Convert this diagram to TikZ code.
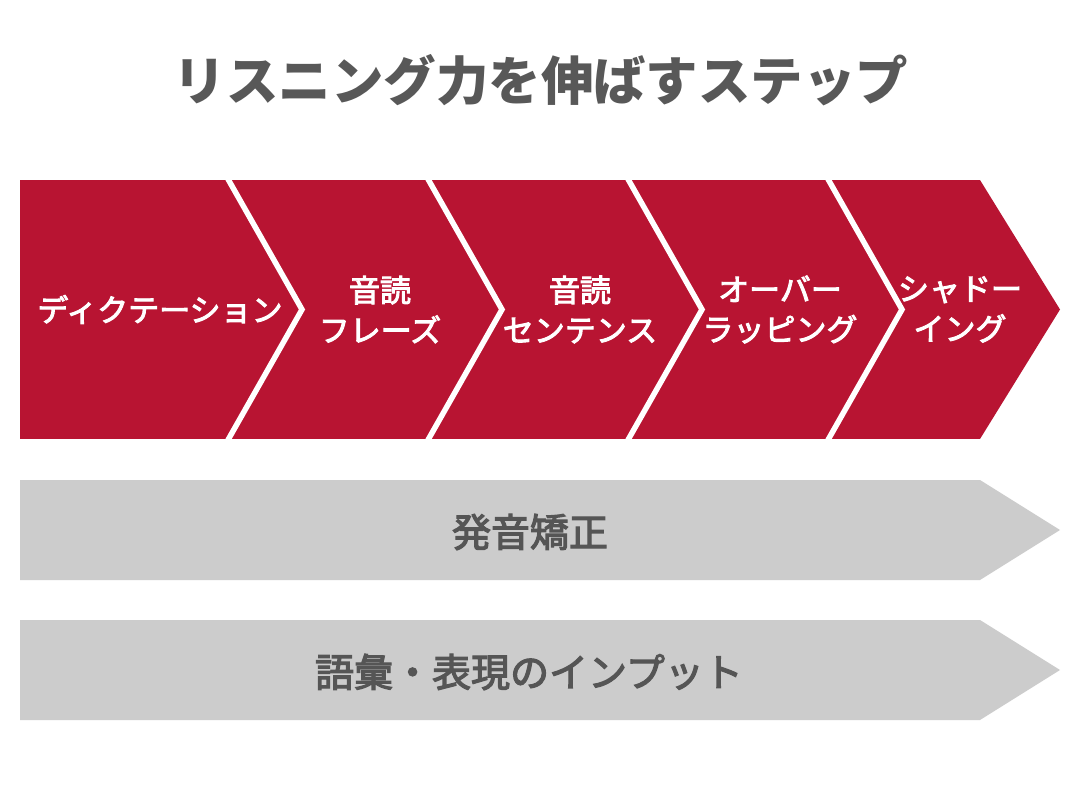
\documentclass[tikz,border=0pt]{standalone}
\usepackage{fontspec}
\newfontfamily\jp{Noto Sans CJK JP}
\newfontfamily\jpm{Noto Sans CJK JP}[FakeBold=3]
\definecolor{stepred}{RGB}{184,20,50}
\definecolor{bandgray}{RGB}{204,204,204}
\definecolor{titlegray}{RGB}{88,88,88}
\definecolor{labelgray}{RGB}{85,85,85}
\tikzset{
  sep/.style={draw=white,line width=5.5pt,line join=miter,miter limit=10},
  redlabel/.style={text=white,font=\jpm\fontsize{31}{40}\selectfont,align=center,inner sep=0pt},
  graylabel/.style={text=labelgray,font=\jpm\fontsize{39}{44}\selectfont,inner sep=0pt},
  titlelabel/.style={text=titlegray,font=\jp\bfseries\fontsize{52.5}{60}\selectfont,inner sep=0pt}
}
\begin{document}
\begin{tikzpicture}[x=1pt,y=-1pt]
\useasboundingbox (0,0) rectangle (1080,800);
\fill[white] (0,0) rectangle (1080,800);
% title
\node[titlelabel] (title) at (541,80) {リスニング力を伸ばすステップ};
% red band
\fill[stepred] (20,180) -- (980,180) -- (1060,309.5) -- (980,439) -- (20,439) -- cycle;
\foreach \x in {224,424,624,824}{
  \draw[sep] (\x,172) -- (\x+78,309.5) -- (\x,447);
}
\fill[white] (0,170) rectangle (1080,179.6);
\fill[white] (0,439.4) rectangle (1080,450);
% red labels
\node[redlabel] (s1) at (160,309.5) {ディクテーション};
\node[redlabel] (s2) at (380,309.5) {音読\\フレーズ};
\node[redlabel] (s3) at (580,309.5) {音読\\センテンス};
\node[redlabel] (s4) at (780,309.5) {オーバー\\ラッピング};
\node[redlabel] (s5) at (960,309.5) {シャドー\\イング};
% gray arrows
\fill[bandgray] (20,480) -- (980,480) -- (1060,530) -- (980,580) -- (20,580) -- cycle;
\fill[bandgray] (20,620) -- (980,620) -- (1060,670) -- (980,720) -- (20,720) -- cycle;
\node[graylabel] (g1) at (530,532) {発音矯正};
\node[graylabel] (g2) at (529,672) {語彙・表現のインプット};
\end{tikzpicture}
\end{document}
